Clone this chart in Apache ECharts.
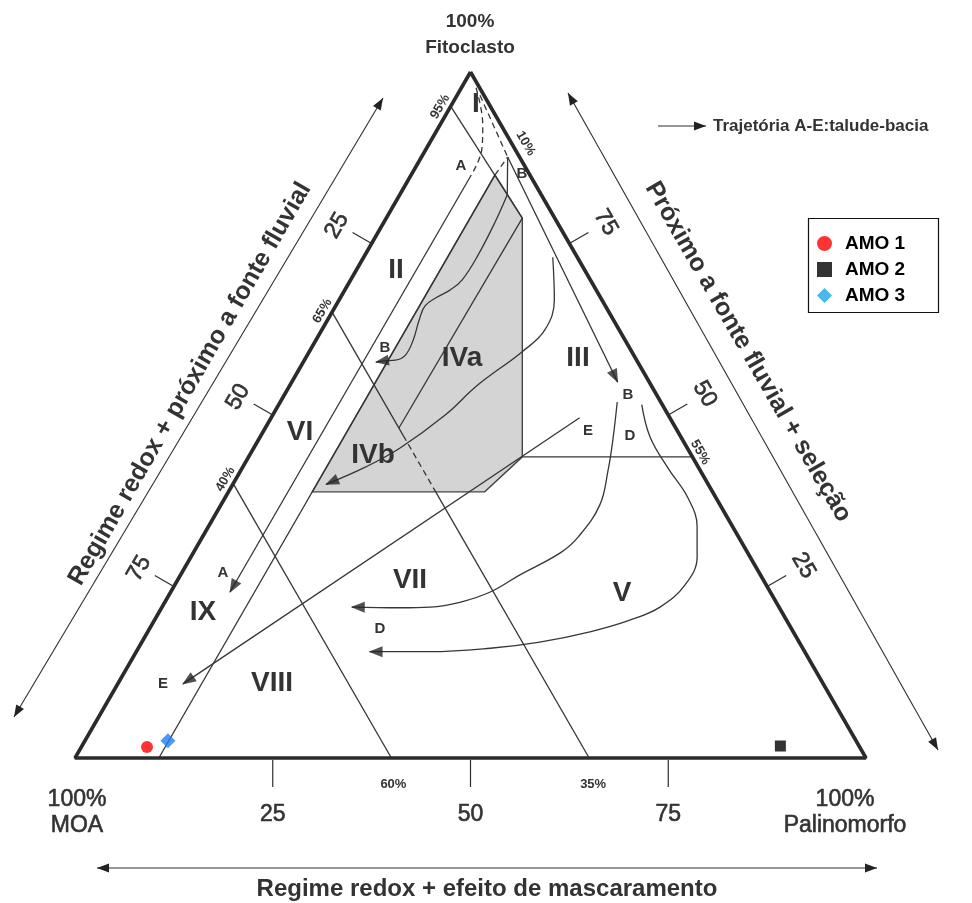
<!DOCTYPE html>
<html><head><meta charset="utf-8">
<script src="https://cdn.jsdelivr.net/npm/echarts@6/dist/echarts.min.js"></script>
<style>html,body{margin:0;padding:0;background:#fff}#c{width:972px;height:903px}</style>
</head><body><div id="c"></div>
<script>
// All ternary points are [Fitoclasto %, Palinomorfo %]; MOA % = 100 - F - P
const sampleNames = ['AMO 1', 'AMO 2', 'AMO 3'];
const amo1 = [[1.6, 8.3]];
const amo2 = [[1.75, 88.3]];
const amo3 = [[2.5, 10.5]];

const triangle = [[100, 0], [0, 0], [0, 100], [100, 0]];
const grayField = [[85.0, 10.6], [78.7, 17.2], [43.9, 34.6], [38.8, 32.4], [38.8, 10.6]];

// boundary lines
const line95 = [[95, 0], [78.7, 17.2]];
const lineP10 = [[0, 10.6], [85.0, 10.6]];
const lineP10dash = [[85.0, 10.6], [87.6, 10.9]];
const lineA35top = [[65, 0], [47, 18]];
const lineA35dash = [[47, 18], [38.8, 26.2]];
const lineA35low = [[38.8, 26.2], [0, 65]];
const lineA60 = [[40, 0], [0, 40]];
const lineF44 = [[43.9, 34.6], [43.9, 56.1]];
const lineIVab = [[78.7, 17.2], [48.1, 16.9]];

// trajectories A-E
const trajAdash = [[97.7, 1.85], [92.3, 5.4], [88.9, 7.0], [84.7, 7.6]];
const trajA = [[84.7, 7.6], [24.2, 7.5]];
const trajBdash = [[96.6, 2.9], [87.6, 10.9]];
const trajBright = [[87.6, 10.9], [54.8, 41.2]];
const trajBvert = [[87.6, 10.9], [82.1, 13.6]];
const trajBcurve = [[82.1, 13.6], [78.1, 14.05], [73.3, 14.3], [69.7, 14.1], [68.2, 13.3], [67.2, 12.2], [65.9, 11.3],
  [63.8, 11.6], [60.9, 12.3], [58.7, 12.4], [58.0, 11.5], [57.9, 10.2], [57.7, 9.2]];
const trajC = [[73.0, 23.9], [66.8, 27.2], [62.4, 28.2], [59.2, 26.9], [54.4, 23.75], [50.0, 21.8], [45.2, 18.5],
  [42.4, 15.5], [39.9, 11.8]];
const trajE = [[49.6, 39.0], [10.8, 8.25]];
const trajD1 = [[51.9, 42.6], [46.4, 44.8], [42.0, 46.4], [36.9, 47.9], [32.2, 47.5], [29.9, 46.4], [26.7, 42.9],
  [24.2, 40.4], [22.7, 37.3], [22.0, 33.9], [21.9, 30.1], [22.0, 24.0]];
const trajD2 = [[51.5, 45.9], [46.8, 49.3], [42.3, 53.8], [37.9, 58.55], [33.7, 61.8], [29.3, 64.0], [25.2, 64.5],
  [22.0, 62.96], [20.1, 60.1], [18.4, 55.9], [16.9, 50.3], [16.0, 44.5], [15.5, 37.1], [15.5, 29.5]];

// tick labels
const leftTicksF = [75, 50, 25];   const leftTickLabels = ['25', '50', '75'];
const rightTicksF = [75, 50, 25];  const rightTickLabels = ['75', '50', '25'];
const bottomTicksP = [25, 50, 75]; const bottomTickLabels = ['25', '50', '75'];

const SQ = Math.sqrt(3) / 2;
const T = (f, p) => [p + f / 2, f * SQ];
const FONT = '"Liberation Sans", Arial, Helvetica, sans-serif';
const INK = '#333333';

function lineS(pts, o) {
  o = o || {};
  return {
    type: 'line', data: pts.map(q => T(q[0], q[1])), symbol: 'none', silent: true, clip: false,
    smooth: o.smooth || false, z: o.z || 3,
    lineStyle: { color: o.color || '#363636', width: o.width || 1.3, type: o.dashed ? [6, 4] : 'solid' }
  };
}
function arrowHead(pts) {
  const a = T(pts[pts.length - 2][0], pts[pts.length - 2][1]);
  const b = T(pts[pts.length - 1][0], pts[pts.length - 1][1]);
  const dx = b[0] - a[0], dy = b[1] - a[1], L = Math.hypot(dx, dy);
  const back = 0.75;
  return { value: [b[0] - dx / L * back, b[1] - dy / L * back], symbolRotate: Math.atan2(dy, dx) * 180 / Math.PI - 90 };
}

const chart = echarts.init(document.getElementById('c'));
const option = {
  animation: false,
  backgroundColor: '#fff',
  grid: { left: 75, top: 72, width: 791, height: 686 },
  xAxis: { type: 'value', min: 0, max: 100, show: false },
  yAxis: { type: 'value', min: 0, max: 100 * SQ, show: false },
  legend: {
    orient: 'vertical', left: 812, top: 229, itemWidth: 15, itemHeight: 15, itemGap: 7, selectedMode: false,
    textStyle: { fontSize: 19, fontWeight: 'bold', color: '#000', fontFamily: FONT, padding: [0, 0, 0, 8] },
    data: [
      { name: sampleNames[0], icon: 'circle' },
      { name: sampleNames[1], icon: 'rect' },
      { name: sampleNames[2], icon: 'diamond', itemStyle: { color: '#1aa6ea' } }
    ]
  },
  series: [
    {
      type: 'custom', silent: true, z: 1, data: [[0, 0]],
      renderItem: (params, api) => ({
        type: 'polygon',
        shape: { points: grayField.map(q => api.coord(T(q[0], q[1]))) },
        style: { fill: '#d4d4d4', stroke: '#444', lineWidth: 1.4 }
      })
    },
    lineS(line95), lineS(lineP10), lineS(lineP10dash, { dashed: true }),
    lineS(lineA35top), lineS(lineA35dash, { dashed: true }), lineS(lineA35low), lineS(lineA60),
    lineS(lineF44), lineS(lineIVab),
    lineS(trajAdash, { dashed: true, smooth: 0.4 }), lineS(trajA),
    lineS(trajBdash, { dashed: true }), lineS(trajBright), lineS(trajBvert),
    lineS(trajBcurve, { smooth: 0.4 }), lineS(trajC, { smooth: 0.4 }), lineS(trajE),
    lineS(trajD1, { smooth: 0.4 }), lineS(trajD2, { smooth: 0.4 }),
    lineS(triangle, { width: 3.6, color: '#2b2b2b', z: 5 }),
    {
      type: 'scatter', silent: true, z: 6, symbol: 'triangle', symbolSize: [11, 14],
      itemStyle: { color: '#262626' },
      data: [trajA, trajBright, trajBcurve, trajC, trajE, trajD1, trajD2].map(arrowHead)
    },
    { name: sampleNames[0], type: 'scatter', z: 8, symbol: 'circle', symbolSize: 12, itemStyle: { color: '#ff0000' }, data: amo1.map(q => T(q[0], q[1])) },
    { name: sampleNames[1], type: 'scatter', z: 8, symbol: 'rect', symbolSize: 11, itemStyle: { color: '#000000' }, data: amo2.map(q => T(q[0], q[1])) },
    { name: sampleNames[2], type: 'scatter', z: 8, symbol: 'diamond', symbolSize: 15, itemStyle: { color: '#1f7ff0' }, data: amo3.map(q => T(q[0], q[1])) }
  ]
};
chart.setOption(option);

// ---------- annotations (ticks, texts, outer arrows) ----------
const P = (f, p) => chart.convertToPixel({ gridIndex: 0 }, T(f, p));
const g = [];
function txt(x, y, s, size, opt) {
  opt = opt || {};
  const st = { text: s, fontFamily: FONT, fontSize: size, fontWeight: opt.weight || 'bold', fill: opt.color || INK, align: 'center', verticalAlign: 'middle' };
  if (opt.heavy) { st.stroke = opt.color || INK; st.lineWidth = opt.heavy; }
  g.push({ type: 'text', x: x, y: y, rotation: opt.rot || 0, z: 20, silent: true, style: st });
}
function seg(x1, y1, x2, y2, w, color) {
  g.push({ type: 'line', silent: true, z: 15, shape: { x1, y1, x2, y2 }, style: { stroke: color || '#2e2e2e', lineWidth: w || 1.2 } });
}
function head(x, y, ux, uy, len, wid) {
  const bx = x - ux * len, by = y - uy * len, nx = -uy, ny = ux;
  g.push({ type: 'polygon', silent: true, z: 15, shape: { points: [[x, y], [bx + nx * wid / 2, by + ny * wid / 2], [bx - nx * wid / 2, by - ny * wid / 2]] }, style: { fill: '#222' } });
}
function arrow(x1, y1, x2, y2, both) {
  const L = Math.hypot(x2 - x1, y2 - y1), ux = (x2 - x1) / L, uy = (y2 - y1) / L;
  seg(x1, y1, x2, y2, 1.1);
  head(x2, y2, ux, uy, 12, 9);
  if (both) head(x1, y1, -ux, -uy, 12, 9);
}

const nL = [-SQ, -0.5], nR = [SQ, -0.5];
const numOpt = { weight: 'normal', heavy: 0.6 };
leftTicksF.forEach((f, i) => {
  const p = P(f, 0);
  seg(p[0], p[1], p[0] + nL[0] * 22, p[1] + nL[1] * 22, 1.2);
  txt(p[0] + nL[0] * 40, p[1] + nL[1] * 40 + 2, leftTickLabels[i], 23, Object.assign({ rot: Math.PI / 3 }, numOpt));
});
rightTicksF.forEach((f, i) => {
  const p = P(f, 100 - f);
  seg(p[0], p[1], p[0] + nR[0] * 22, p[1] + nR[1] * 22, 1.2);
  txt(p[0] + nR[0] * 42, p[1] + nR[1] * 42, rightTickLabels[i], 23, Object.assign({ rot: -Math.PI / 3 }, numOpt));
});
bottomTicksP.forEach((v, i) => {
  const p = P(0, v);
  seg(p[0], p[1] + 2, p[0], p[1] + 29, 1.2);
  txt(p[0], p[1] + 57, bottomTickLabels[i], 23, numOpt);
});

// percentage labels
(function () {
  let p;
  p = P(94.3, 0); txt(p[0] + nL[0] * 9, p[1] + nL[1] * 9, '95%', 13, { rot: Math.PI / 3 });
  p = P(64.5, 0); txt(p[0] + nL[0] * 9, p[1] + nL[1] * 9, '65%', 13, { rot: Math.PI / 3 });
  p = P(40, 0);   txt(p[0] + nL[0] * 9, p[1] + nL[1] * 9, '40%', 13, { rot: Math.PI / 3 });
  p = P(88.7, 11.3); txt(p[0] + nR[0] * 12, p[1] + nR[1] * 12, '10%', 13, { rot: -Math.PI / 3 });
  p = P(43.9, 56.1); txt(p[0] + nR[0] * 9, p[1] + nR[1] * 9, '55%', 13, { rot: -Math.PI / 3 });
  p = P(0, 40); txt(p[0] + 2, p[1] + 26, '60%', 13);
  p = P(0, 65); txt(p[0] + 4, p[1] + 26, '35%', 13);
})();

// field labels
[['I', 476, 104], ['II', 396, 270], ['III', 578, 358], ['IVa', 462, 358], ['IVb', 373, 455], ['V', 622, 593],
 ['VI', 300, 432], ['VII', 410, 580], ['VIII', 272, 683], ['IX', 203, 612]].forEach(a => txt(a[1], a[2], a[0], 28));
// trajectory letters
[['A', 461, 166], ['B', 522, 174], ['B', 385, 348], ['A', 223, 573], ['E', 163, 684], ['D', 380, 629],
 ['B', 628, 395], ['E', 588, 431], ['D', 630, 436]].forEach(a => txt(a[1], a[2], a[0], 15));

// corner labels
txt(470, 22, '100%', 19); txt(470, 48, 'Fitoclasto', 19);
txt(77, 800, '100%', 23, numOpt); txt(77, 826, 'MOA', 23, numOpt);
txt(845, 800, '100%', 23, numOpt); txt(845, 826, 'Palinomorfo', 23, numOpt);

// axis titles
txt(190, 384, 'Regime redox + próximo a fonte fluvial', 25, { rot: Math.PI / 3 });
txt(748, 352, 'Próximo a fonte fluvial + seleção', 25, { rot: -Math.PI / 3 });
txt(487, 889, 'Regime redox + efeito de mascaramento', 24);

// outer arrows
arrow(14, 717, 383, 98, true);
arrow(568, 93, 938, 750, true);
arrow(97, 868, 877, 868, true);

// trajectory legend
arrow(658, 126, 706, 126, false);
g.push({ type: 'text', x: 713, y: 126, z: 20, silent: true, style: { text: 'Trajetória A-E:talude-bacia', fontFamily: FONT, fontSize: 17, fontWeight: 'bold', fill: INK, align: 'left', verticalAlign: 'middle' } });

// legend frame
g.push({ type: 'rect', silent: true, z: 0, shape: { x: 808.5, y: 218.5, width: 130, height: 94 }, style: { fill: 'none', stroke: '#111', lineWidth: 1.2 } });

chart.setOption({ graphic: g });
</script></body></html>
